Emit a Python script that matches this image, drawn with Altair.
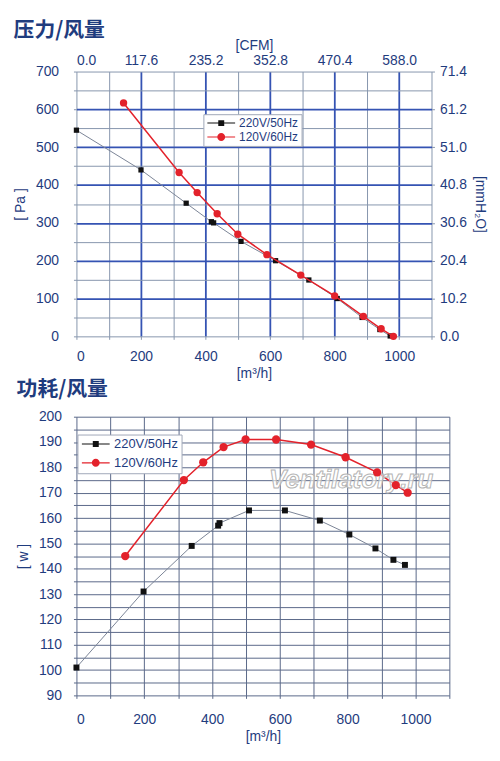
import altair as alt
import pandas as pd

# ---------------- data ----------------
series_names = ["220V/50Hz", "120V/60Hz"]

# pressure / flow
p_flow_220 = [0, 200, 340, 418, 425, 510, 617, 720, 808, 885, 940, 972]
p_pres_220 = [545, 440, 352, 303, 300, 251, 200, 149, 100, 50, 18, 1]
p_flow_120 = [146, 318, 374, 436, 500, 590, 695, 800, 889, 944, 982]
p_pres_120 = [617, 433, 380, 324, 270, 216, 162, 107, 53, 20, 0]

# power / flow
w_flow_220 = [0, 198, 340, 418, 422, 509, 615, 718, 805, 882, 935, 969]
w_pow_220 = [101, 131, 149, 157, 158, 163, 163, 159, 153.5, 148, 143.5, 141.5]
w_flow_120 = [144, 317, 374, 434, 499, 589, 692, 794, 887, 942, 977]
w_pow_120 = [145, 175, 182, 188, 191, 191, 189, 184, 178, 173, 170]

# axes
flow_grid = list(range(0, 1101, 100))
pa_grid = list(range(0, 701, 50))
cfm_ticks = [0.0, 117.6, 235.2, 352.8, 470.4, 588.0]
mmh2o_ticks = [0.0, 10.2, 20.4, 30.6, 40.8, 51.0, 61.2, 71.4]
w_grid = list(range(90, 201, 5))
watermark = "Ventilatory.ru"

# ---------------- styles ----------------
NAVY = "#1f3c7e"
MINOR = "#8796ad"
MAJOR = "#3553b3"
GRID2 = "#5a6889"
RED = "#e3222b"
GRAYLINE = "#7a8496"
FONT = "Liberation Sans"
CJK = "Noto Sans CJK SC"

PATH_SQ = "M-2.8,-0.1H2.8V0.1H-2.8Z M-0.6,-0.6H0.6V0.6H-0.6Z"
PATH_CI = "M-2.8,-0.12H2.8V0.12H-2.8Z M-0.8,0A0.8,0.8 0 1,1 0.8,0A0.8,0.8 0 1,1 -0.8,0Z"


def legend_layer(x, y, fsize, rowpad):
    leg = alt.Legend(
        orient="none", legendX=x, legendY=y, title=None,
        strokeColor="#a0a8b8", fillColor="white", padding=3,
        labelFont=FONT, labelFontSize=fsize, labelColor=NAVY,
        symbolSize=100, symbolStrokeWidth=0, symbolOffset=9, labelOffset=12,
        rowPadding=rowpad,
    )
    df = pd.DataFrame({"series": series_names})
    return (
        alt.Chart(df)
        .transform_filter("false")
        .mark_point(filled=True, opacity=1)
        .encode(
            color=alt.Color("series:N", scale=alt.Scale(domain=series_names, range=["#111111", RED]), legend=leg),
            shape=alt.Shape("series:N", scale=alt.Scale(domain=series_names, range=[PATH_SQ, PATH_CI]), legend=leg),
        )
    )


# ---------------- top chart ----------------
maj_x = "datum.value % 200 === 0 && datum.value > 0 && datum.value < 1100"
maj_y = "datum.value % 100 === 0 && datum.value > 0 && datum.value < 700"

top_x = alt.X(
    "flow:Q",
    scale=alt.Scale(domain=[0, 1100], nice=False),
    axis=alt.Axis(
        values=flow_grid, format="d",
        labelExpr="datum.value % 200 === 0 && datum.value <= 1000 ? datum.label : ''",
        title="[m³/h]", grid=True,
        gridColor={"condition": {"test": maj_x, "value": MAJOR}, "value": MINOR},
        gridWidth={"condition": {"test": maj_x, "value": 1.8}, "value": 1},
        tickColor=MINOR, tickSize=3, domain=False, labelPadding=10, titlePadding=3,
    ),
)
top_y = alt.Y(
    "val:Q",
    scale=alt.Scale(domain=[0, 700], nice=False),
    axis=alt.Axis(
        values=pa_grid,
        labelExpr="datum.value % 100 === 0 ? datum.label : ''",
        title="[ Pa ]", grid=True,
        gridColor={"condition": {"test": maj_y, "value": MAJOR}, "value": MINOR},
        gridWidth={"condition": {"test": maj_y, "value": 1.8}, "value": 1},
        tickColor=MINOR, tickSize=3, domain=False, labelPadding=15, titlePadding=8,
    ),
)

t220 = pd.DataFrame({"flow": p_flow_220, "val": p_pres_220})
t120 = pd.DataFrame({"flow": p_flow_120, "val": p_pres_120})

top_main = alt.layer(
    alt.Chart(t220).mark_line(color=GRAYLINE, strokeWidth=1).encode(top_x, top_y),
    alt.Chart(t220).mark_square(color="#111111", size=28, opacity=1).encode(top_x, top_y),
    alt.Chart(t120).mark_line(color=RED, strokeWidth=1.5).encode(top_x, top_y),
    alt.Chart(t120).mark_circle(color=RED, size=55, opacity=1).encode(top_x, top_y),
    legend_layer(128, 43, 12, 2),
)

sec_df = pd.DataFrame({"cfm": cfm_ticks, "mm": mmh2o_ticks[: len(cfm_ticks)]})
top_sec = alt.Chart(sec_df).mark_point(opacity=0).encode(
    x=alt.X(
        "cfm:Q",
        scale=alt.Scale(domain=[0, 1100 * cfm_ticks[-1] / 1000], nice=False),
        axis=alt.Axis(orient="top", values=cfm_ticks, format=".1f", title="[CFM]",
                      grid=False, domain=False, ticks=False, labelPadding=4, titlePadding=1),
    ),
    y=alt.Y(
        "mm:Q",
        scale=alt.Scale(domain=[0, mmh2o_ticks[-1]], nice=False),
        axis=alt.Axis(orient="right", values=mmh2o_ticks, format=".1f", title="[mmH₂O]",
                      grid=False, domain=False, tickSize=3, tickColor=MINOR,
                      labelPadding=5, titlePadding=6),
    ),
)

top = (
    alt.layer(top_main, top_sec)
    .resolve_scale(x="independent", y="independent")
    .properties(
        width=358, height=267,
        title=alt.TitleParams("压力/风量", anchor="start", frame="bounds", font=CJK,
                              fontSize=21, fontWeight="bold", color=NAVY, offset=-2),
    )
)

# ---------------- bottom chart ----------------
bot_x = alt.X(
    "flow:Q",
    scale=alt.Scale(domain=[0, 1100], nice=False),
    axis=alt.Axis(
        values=flow_grid, format="d",
        labelExpr="datum.value % 200 === 0 && datum.value <= 1000 ? datum.label : ''",
        title="[m³/h]", grid=True, gridColor=GRID2, gridWidth=1,
        tickColor=GRID2, tickSize=3, domain=False, labelPadding=14, titlePadding=3,
    ),
)
bot_y = alt.Y(
    "val:Q",
    scale=alt.Scale(domain=[90, 200], nice=False, zero=False),
    axis=alt.Axis(
        values=w_grid,
        labelExpr="datum.value % 10 === 0 ? datum.label : ''",
        title="[ w ]", grid=True, gridColor=GRID2, gridWidth=1,
        tickColor=GRID2, tickSize=3, domain=False, labelPadding=12, titlePadding=8,
    ),
)

b220 = pd.DataFrame({"flow": w_flow_220, "val": w_pow_220})
b120 = pd.DataFrame({"flow": w_flow_120, "val": w_pow_120})

wm = alt.Chart(pd.DataFrame({"t": [watermark]})).mark_text(
    font=FONT, fontSize=26, fontStyle="italic", fontWeight="bold",
    fill="white", fillOpacity=0.6, stroke="#b4b4b4", strokeWidth=1,
).encode(text="t:N", x=alt.value(277), y=alt.value(64))

bottom = alt.layer(
    alt.Chart(b220).mark_line(color=GRAYLINE, strokeWidth=1).encode(bot_x, bot_y),
    alt.Chart(b220).mark_square(color="#111111", size=36, opacity=1).encode(bot_x, bot_y),
    alt.Chart(b120).mark_line(color=RED, strokeWidth=1.5).encode(bot_x, bot_y),
    wm,
    alt.Chart(b120).mark_circle(color=RED, size=70, opacity=1).encode(bot_x, bot_y),
    legend_layer(1, 18, 13, 5),
).properties(
    width=376, height=281,
    title=alt.TitleParams("功耗/风量", anchor="start", frame="bounds", font=CJK,
                          fontSize=21, fontWeight="bold", color=NAVY, offset=10),
)

chart = (
    alt.vconcat(top, bottom, spacing=-1)
    .resolve_scale(color="independent", shape="independent")
    .resolve_legend(color="independent", shape="independent")
    .configure(font=FONT, padding={"top": 9, "left": 5, "right": 5, "bottom": 5})
    .configure_view(stroke=None)
    .configure_axis(
        labelFont=FONT, labelFontSize=14, labelColor=NAVY,
        titleFont=FONT, titleFontSize=14, titleColor=NAVY, titleFontWeight="normal",
    )
)

chart.save("out.html", embed_options={"renderer": "svg", "actions": False})
